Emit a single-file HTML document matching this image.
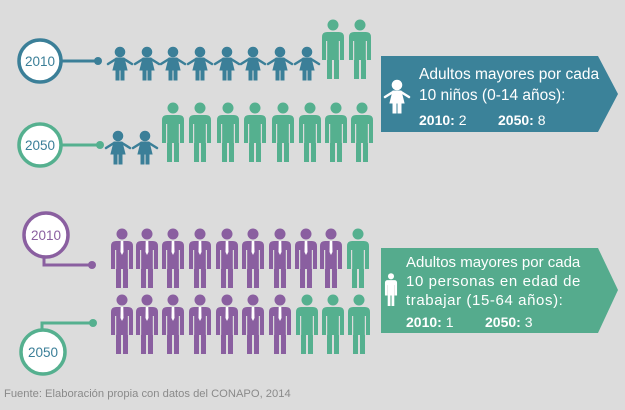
<!DOCTYPE html><html><head><meta charset="utf-8"><style>
html,body{margin:0;padding:0;background:#dcdcdc;}
svg text{font-family:"Liberation Sans",sans-serif;}
</style></head><body>
<svg width="625" height="405" viewBox="0 0 625 405" xmlns="http://www.w3.org/2000/svg">
<defs>
<g id="adult">
<circle cx="0" cy="6" r="5.5"/>
<path d="M-11 18 Q-11 13 -6 13 L6 13 Q11 13 11 18 L11 41 L6 41 L6 60 L1 60 L1 41 L-1 41 L-1 60 L-6 60 L-6 41 L-11 41 Z"/>
<rect x="-7" y="22" width="1.2" height="19" fill="#dcdcdc"/>
<rect x="5.8" y="22" width="1.2" height="19" fill="#dcdcdc"/>
</g>
<g id="suit">
<use href="#adult"/>
<path d="M-1.3 13 L1.3 13 L1.5 24 L0 27 L-1.5 24 Z" fill="#fff"/>
</g>
<g id="child">
<circle cx="0" cy="5" r="4.8"/>
<path d="M-4 11 L4 11 L7 23 L-7 23 Z"/>
<path d="M-4 12 L-12 17 M4 12 L12 17" stroke-width="2.5" stroke-linecap="round"/>
<rect x="-4" y="22" width="3" height="11"/>
<rect x="1" y="22" width="3" height="11"/>
</g>
</defs>

<!-- row 1 -->
<line x1="60" y1="61" x2="98" y2="61" stroke="#3b7f98" stroke-width="3"/>
<circle cx="98" cy="61" r="4" fill="#3b7f98"/>
<circle cx="40" cy="61" r="21" fill="#fff" stroke="#3b7f98" stroke-width="3.5"/>
<text x="40" y="66" font-size="13.5" font-weight="500" fill="#3b7f98" text-anchor="middle">2010</text>
<g fill="#3b7f98" stroke="#3b7f98">
<use href="#child" x="120" y="47"/><use href="#child" x="147" y="47"/><use href="#child" x="173" y="47"/><use href="#child" x="200" y="47"/>
<use href="#child" x="227" y="47"/><use href="#child" x="253" y="47"/><use href="#child" x="280" y="47"/><use href="#child" x="307" y="47"/>
</g>
<g fill="#55b08f"><use href="#adult" x="333" y="19"/><use href="#adult" x="360" y="19"/></g>

<!-- row 2 -->
<line x1="60" y1="145" x2="100" y2="145" stroke="#55b08f" stroke-width="3"/>
<circle cx="100" cy="145" r="4" fill="#55b08f"/>
<circle cx="40" cy="145" r="21" fill="#fff" stroke="#55b08f" stroke-width="3.5"/>
<text x="40" y="150" font-size="13.5" fill="#3b7f98" text-anchor="middle">2050</text>
<g fill="#3b7f98" stroke="#3b7f98"><use href="#child" x="118" y="131"/><use href="#child" x="145" y="131"/></g>
<g fill="#55b08f">
<use href="#adult" x="173" y="102"/><use href="#adult" x="200" y="102"/><use href="#adult" x="228" y="102"/><use href="#adult" x="255" y="102"/>
<use href="#adult" x="283" y="102"/><use href="#adult" x="310" y="102"/><use href="#adult" x="336" y="102"/><use href="#adult" x="362" y="102"/>
</g>

<!-- box 1 -->
<path d="M381 56 L598 56 L618 94 L598 132 L381 132 Z" fill="#3b8299"/>
<g fill="#fff" stroke="#fff"><use href="#child" x="397" y="80"/></g>
<text x="419" y="79" font-size="15.5" fill="#fff">Adultos mayores por cada</text>
<text x="419" y="100" font-size="15.5" fill="#fff">10 niños (0-14 años):</text>
<text x="419" y="125" font-size="14" fill="#fff"><tspan font-weight="bold">2010:</tspan> 2<tspan x="498" font-weight="bold">2050:</tspan> 8</text>

<!-- row 3 -->
<path d="M44 257 L44 265 L92 265" fill="none" stroke="#8a5fa0" stroke-width="3"/>
<circle cx="92" cy="265" r="4" fill="#8a5fa0"/>
<circle cx="46" cy="235" r="22" fill="#fff" stroke="#8a5fa0" stroke-width="3.5"/>
<text x="46" y="240" font-size="13.5" fill="#8a5fa0" text-anchor="middle">2010</text>
<g fill="#8a5fa0">
<use href="#suit" x="122" y="228"/><use href="#suit" x="147" y="228"/><use href="#suit" x="173" y="228"/><use href="#suit" x="200" y="228"/><use href="#suit" x="227" y="228"/>
<use href="#suit" x="253" y="228"/><use href="#suit" x="280" y="228"/><use href="#suit" x="306" y="228"/><use href="#suit" x="331" y="228"/>
</g>
<g fill="#55b08f"><use href="#adult" x="358" y="228"/></g>

<!-- row 4 -->
<path d="M42 331 L42 323 L93 323" fill="none" stroke="#55b08f" stroke-width="3"/>
<circle cx="93" cy="323" r="4" fill="#55b08f"/>
<circle cx="43" cy="352" r="22" fill="#fff" stroke="#55b08f" stroke-width="3.5"/>
<text x="43" y="357" font-size="13.5" fill="#3b7f98" text-anchor="middle">2050</text>
<g fill="#8a5fa0">
<use href="#suit" x="122" y="294"/><use href="#suit" x="147" y="294"/><use href="#suit" x="173" y="294"/><use href="#suit" x="200" y="294"/><use href="#suit" x="227" y="294"/>
<use href="#suit" x="253" y="294"/><use href="#suit" x="280" y="294"/>
</g>
<g fill="#55b08f"><use href="#adult" x="307" y="294"/><use href="#adult" x="333" y="294"/><use href="#adult" x="359" y="294"/></g>

<!-- box 2 -->
<path d="M381 248 L598 248 L618 290 L598 333 L381 333 Z" fill="#55ab8d"/>
<g fill="#fff" transform="translate(391 273) scale(0.55)"><use href="#adult"/></g>
<text x="406" y="267" font-size="15" fill="#fff">Adultos mayores por cada</text>
<text x="406" y="286" font-size="15" fill="#fff" letter-spacing="0.6">10 personas en edad de</text>
<text x="406" y="305" font-size="15" fill="#fff" letter-spacing="0.6">trabajar (15-64 años):</text>
<text x="406" y="327" font-size="14" fill="#fff"><tspan font-weight="bold">2010:</tspan> 1<tspan x="485" font-weight="bold">2050:</tspan> 3</text>

<text x="4" y="397" font-size="11.2" fill="#8a8a8a">Fuente: Elaboración propia con datos del CONAPO, 2014</text>
</svg>
</body></html>
